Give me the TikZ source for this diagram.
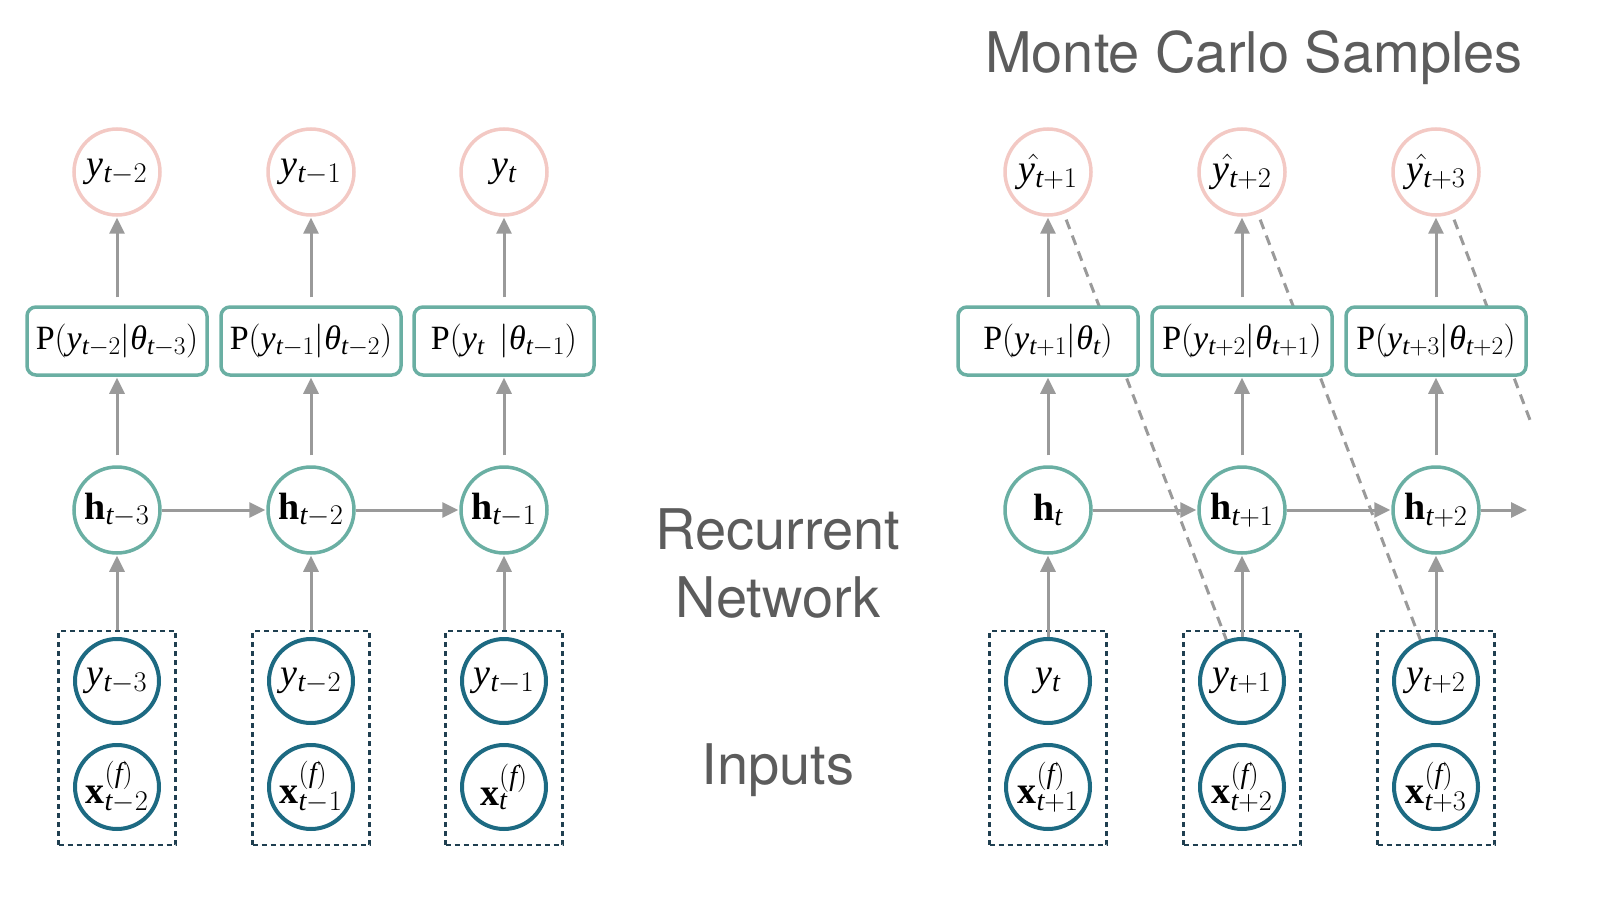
\RequirePackage{fix-cm}
\documentclass[tikz,border=0pt]{standalone}
\usepackage{fontspec}
\setmainfont{Liberation Serif}
\newfontfamily\labelsans{TeX Gyre Heros}
\usetikzlibrary{arrows.meta}
\DeclareMathSizes{38}{38}{28.5}{21}
\DeclareMathSizes{34}{34}{25.5}{19}
\pgfdeclarelayer{bg}
\pgfsetlayers{bg,main}
\newcommand\vT{\mathit{t}}
\newcommand\vY{\mathit{y}}
\newcommand\vYh{\skew{6}\hat{\mathit{y}}}
\newcommand\vTh{\hbox{\itshape θ}}
\definecolor{pinkc}{HTML}{F3C9C4}
\definecolor{tealc}{HTML}{6AAFA3}
\definecolor{darkteal}{HTML}{1D6A82}
\definecolor{dashbox}{HTML}{1F3F50}
\definecolor{arrowgray}{HTML}{9A9A9A}
\definecolor{labelgray}{HTML}{5C5C5C}
\tikzset{
  outc/.style={circle, draw=pinkc, line width=3.5pt, fill=white, minimum size=86pt, inner sep=0pt, font=\fontsize{38}{42}\selectfont},
  hidc/.style={circle, draw=tealc, line width=3.5pt, fill=white, minimum size=86pt, inner sep=0pt, font=\fontsize{38}{42}\selectfont},
  inc/.style={circle, draw=darkteal, line width=4pt, fill=white, minimum size=84pt, inner sep=0pt, font=\fontsize{38}{42}\selectfont},
  pbox/.style={rectangle, rounded corners=9pt, draw=tealc, line width=3.5pt, fill=white, minimum width=180pt, minimum height=68pt, inner sep=0pt, font=\fontsize{34}{38}\selectfont},
  inbox/.style={rectangle, draw=dashbox, line width=2.2pt, dash pattern=on 5pt off 4pt, minimum width=117pt, minimum height=214pt, inner sep=0pt},
  garrow/.style={draw=arrowgray, line width=3pt, -{Triangle[length=16pt,width=15pt]}},
  gdash/.style={draw=arrowgray, line width=3pt, dash pattern=on 10pt off 7pt},
  biglabel/.style={font=\labelsans\fontsize{56}{62}\selectfont, text=labelgray, inner sep=0pt}
}
\begin{document}
\begin{tikzpicture}[x=1pt,y=-1pt]
\useasboundingbox (0,0) rectangle (1600,909);
% ---------- left part ----------
\foreach \i/\cx in {1/117,2/311,3/504}{
  \node[inbox] (lb\i) at (\cx,738) {};
}
\node[outc] (lo1) at (117,172) {$\vY_{\vT-2}$};
\node[outc] (lo2) at (311,172) {$\vY_{\vT-1}$};
\node[outc] (lo3) at (504,172) {$\vY_{\vT}$};
\node[pbox] (lp1) at (117,341) {$\mathrm{P}(\vY_{\vT-2}|\vTh_{\vT-3})$};
\node[pbox] (lp2) at (311,341) {$\mathrm{P}(\vY_{\vT-1}|\vTh_{\vT-2})$};
\node[pbox] (lp3) at (504,341) {$\mathrm{P}(\vY_{\vT}\;\,|\vTh_{\vT-1})$};
\node[hidc] (lh1) at (117,510) {$\mathbf{h}_{\vT-3}$};
\node[hidc] (lh2) at (311,510) {$\mathbf{h}_{\vT-2}$};
\node[hidc] (lh3) at (504,510) {$\mathbf{h}_{\vT-1}$};
\node[inc] (ly1) at (117,681) {$\vY_{\vT-3}$};
\node[inc] (ly2) at (311,681) {$\vY_{\vT-2}$};
\node[inc] (ly3) at (504,681) {$\vY_{\vT-1}$};
\node[inc] (lx1) at (117,787) {$\mathbf{x}^{(\mathit{f})}_{\vT-2}$};
\node[inc] (lx2) at (311,787) {$\mathbf{x}^{(\mathit{f})}_{\vT-1}$};
\node[inc] (lx3) at (504,787) {$\mathbf{x}^{(\mathit{f})}_{\vT}$};
\foreach \i in {1,2,3}{
  \draw[garrow, shorten <=8pt, shorten >=1pt] (lp\i.north) -- (lo\i.south);
  \draw[garrow, shorten <=10pt, shorten >=1pt] (lh\i.north) -- (lp\i.south);
  \draw[garrow, shorten >=1pt] (lb\i.north) -- (lh\i.south);
}
\draw[garrow, shorten >=1pt] (lh1.east) -- (lh2.west);
\draw[garrow, shorten >=1pt] (lh2.east) -- (lh3.west);
% ---------- right part ----------
\foreach \i/\cx in {1/1048,2/1242,3/1436}{
  \node[inbox] (rb\i) at (\cx,738) {};
}
\node[outc] (ro1) at (1048,172) {$\vYh_{\vT+1}$};
\node[outc] (ro2) at (1242,172) {$\vYh_{\vT+2}$};
\node[outc] (ro3) at (1436,172) {$\vYh_{\vT+3}$};
\node[pbox] (rp1) at (1048,341) {$\mathrm{P}(\vY_{\vT+1}|\vTh_{\vT})$};
\node[pbox] (rp2) at (1242,341) {$\mathrm{P}(\vY_{\vT+2}|\vTh_{\vT+1})$};
\node[pbox] (rp3) at (1436,341) {$\mathrm{P}(\vY_{\vT+3}|\vTh_{\vT+2})$};
\node[hidc] (rh1) at (1048,510) {$\mathbf{h}_{\vT}$};
\node[hidc] (rh2) at (1242,510) {$\mathbf{h}_{\vT+1}$};
\node[hidc] (rh3) at (1436,510) {$\mathbf{h}_{\vT+2}$};
\node[inc] (ry1) at (1048,681) {$\vY_{\vT}$};
\node[inc] (ry2) at (1242,681) {$\vY_{\vT+1}$};
\node[inc] (ry3) at (1436,681) {$\vY_{\vT+2}$};
\node[inc] (rx1) at (1048,787) {$\mathbf{x}^{(\mathit{f})}_{\vT+1}$};
\node[inc] (rx2) at (1242,787) {$\mathbf{x}^{(\mathit{f})}_{\vT+2}$};
\node[inc] (rx3) at (1436,787) {$\mathbf{x}^{(\mathit{f})}_{\vT+3}$};
\foreach \i in {1,2,3}{
  \draw[garrow, shorten <=8pt, shorten >=1pt] (rp\i.north) -- (ro\i.south);
  \draw[garrow, shorten <=10pt, shorten >=1pt] (rh\i.north) -- (rp\i.south);
  \draw[garrow, shorten >=1pt] (ry\i.north) -- (rh\i.south);
}
\coordinate (hend) at (1527,510);
\coordinate (dend) at (1530,420);
\draw[garrow, shorten >=1pt] (rh1.east) -- (rh2.west);
\draw[garrow, shorten >=1pt] (rh2.east) -- (rh3.west);
\draw[garrow] (rh3.east) -- (hend);
\begin{pgfonlayer}{bg}
  \draw[gdash] (ro1.center) -- (ry2.center);
  \draw[gdash] (ro2.center) -- (ry3.center);
  \draw[gdash] (ro3.center) -- (dend);
\end{pgfonlayer}
% ---------- labels ----------
\node[biglabel] (title) at (1254,58) {Monte Carlo Samples};
\node[biglabel] (rec) at (778,530) {Recurrent};
\node[biglabel] (net) at (778,598) {Network};
\node[biglabel] (inp) at (778,770) {Inputs};
\end{tikzpicture}
\end{document}
